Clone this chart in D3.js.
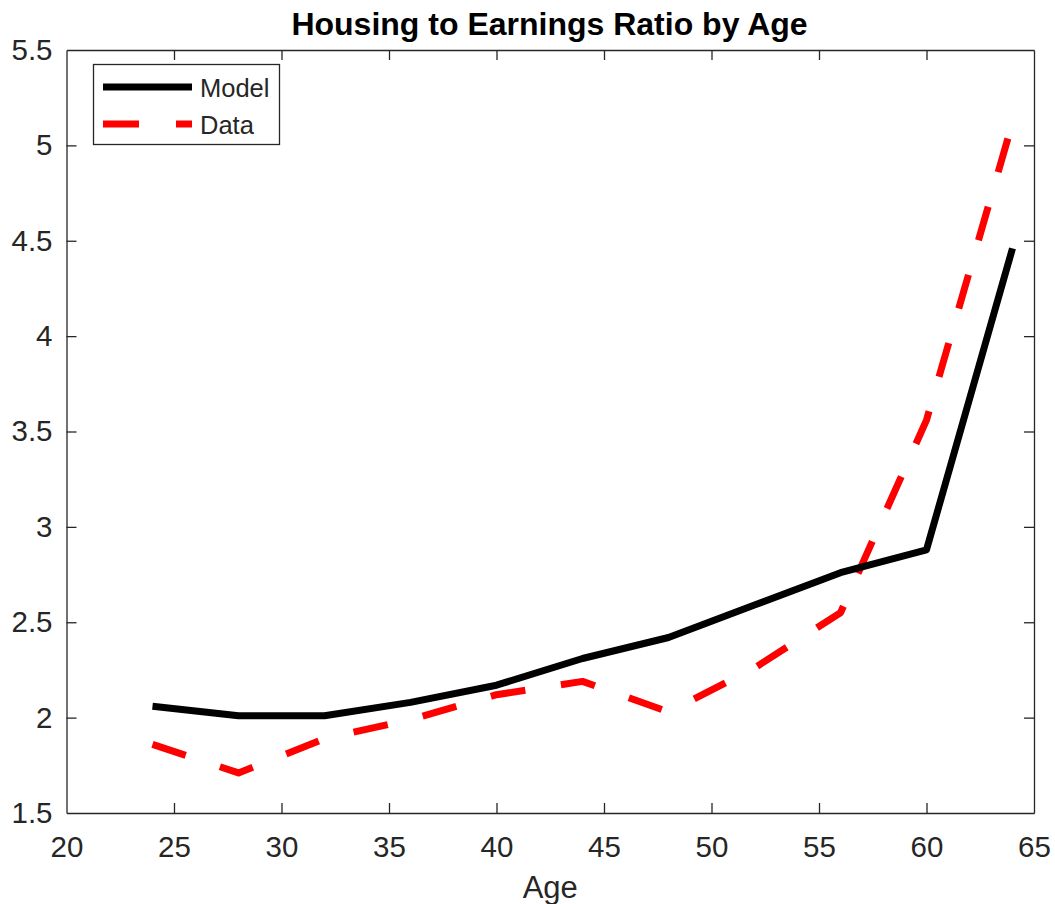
<!DOCTYPE html>
<html>
<head>
<meta charset="utf-8">
<script src="https://cdn.jsdelivr.net/npm/d3@7"></script>
<style>
  html, body { margin: 0; padding: 0; background: #fff; }
  svg { display: block; font-family: "Liberation Sans", Arial, sans-serif; }
</style>
</head>
<body>
<svg id="chart" width="1055" height="904"></svg>
<script>
// Ages at which both series are sampled
const ages = [24, 28, 32, 36, 40, 44, 48, 52, 56, 60, 64];
// Housing-to-earnings ratio, model simulation
const modelValues = [2.06, 2.01, 2.01, 2.08, 2.17, 2.31, 2.42, 2.59, 2.76, 2.88, 4.46];
// Housing-to-earnings ratio, observed data
const dataValues = [1.86, 1.71, 1.89, 1.99, 2.12, 2.19, 2.03, 2.26, 2.55, 3.56, 5.12];
// Axis ticks
const xTicks = [20, 25, 30, 35, 40, 45, 50, 55, 60, 65];
const yTicks = [1.5, 2, 2.5, 3, 3.5, 4, 4.5, 5, 5.5];
const seriesNames = ["Model", "Data"];

(function () {
  const svg = d3.select("#chart");
  const plotLeft = 66.5, plotRight = 1034, plotTop = 50, plotBottom = 813;
  const axisColor = "#262626";

  const x = d3.scaleLinear().domain([20, 65]).range([plotLeft, plotRight]);
  const y = d3.scaleLinear().domain([1.5, 5.5]).range([plotBottom, plotTop]);

  // Bottom axis with inward ticks
  const xAxis = svg.append("g").attr("transform", `translate(0,${plotBottom})`)
    .call(d3.axisBottom(x).tickValues(xTicks).tickFormat(d3.format("d")).tickSizeInner(-10).tickSizeOuter(0).tickPadding(23));
  // Top axis (ticks only)
  const xTop = svg.append("g").attr("transform", `translate(0,${plotTop})`)
    .call(d3.axisTop(x).tickValues(xTicks).tickFormat("").tickSizeInner(-10).tickSizeOuter(0));
  // Left axis
  const yAxis = svg.append("g").attr("transform", `translate(${plotLeft},0)`)
    .call(d3.axisLeft(y).tickValues(yTicks).tickFormat(d => String(d)).tickSizeInner(-10).tickSizeOuter(0).tickPadding(14));
  // Right axis (ticks only)
  const yRight = svg.append("g").attr("transform", `translate(${plotRight},0)`)
    .call(d3.axisRight(y).tickValues(yTicks).tickFormat("").tickSizeInner(-10).tickSizeOuter(0));

  [xAxis, xTop, yAxis, yRight].forEach(g => {
    g.select(".domain").attr("stroke", axisColor).attr("stroke-width", 1.3);
    g.selectAll(".tick line").attr("stroke", axisColor).attr("stroke-width", 1.3);
    g.selectAll(".tick text").attr("fill", axisColor).attr("font-size", 29.5)
      .attr("font-family", "Liberation Sans, Arial, sans-serif");
  });
  // Corner ticks merge into the box
  [xAxis, xTop].forEach(g => g.selectAll(".tick line").filter(d => d === 20 || d === 65).remove());
  [yAxis, yRight].forEach(g => g.selectAll(".tick line").filter(d => d === 1.5 || d === 5.5).remove());

  const line = d3.line().x((d, i) => x(ages[i])).y(d => y(d));

  svg.append("path").datum(dataValues)
    .attr("d", line).attr("fill", "none").attr("stroke", "#ff0000")
    .attr("stroke-width", 7).attr("stroke-dasharray", "35,36").attr("stroke-linejoin", "round");

  svg.append("path").datum(modelValues)
    .attr("d", line).attr("fill", "none").attr("stroke", "#000")
    .attr("stroke-width", 7).attr("stroke-linejoin", "round");

  // Title
  svg.append("text").attr("x", 549.5).attr("y", 35)
    .attr("text-anchor", "middle").attr("font-size", 32).attr("font-weight", "bold")
    .attr("fill", "#000").text("Housing to Earnings Ratio by Age");

  // X axis label
  svg.append("text").attr("x", (plotLeft + plotRight) / 2).attr("y", 898)
    .attr("text-anchor", "middle").attr("font-size", 31).attr("fill", axisColor).text("Age");

  // Legend
  const legend = svg.append("g");
  legend.append("rect").attr("x", 93.5).attr("y", 64.5).attr("width", 186).attr("height", 80)
    .attr("fill", "#fff").attr("stroke", axisColor).attr("stroke-width", 1.3);
  const legendStyles = [
    { color: "#000", dash: null },
    { color: "#ff0000", dash: "36,37" }
  ];
  seriesNames.forEach((name, i) => {
    const ly = 87 + i * 37;
    legend.append("line").attr("x1", 103).attr("x2", 192).attr("y1", ly).attr("y2", ly)
      .attr("stroke", legendStyles[i].color).attr("stroke-width", 7)
      .attr("stroke-dasharray", legendStyles[i].dash);
    legend.append("text").attr("x", 200).attr("y", ly + 10).attr("font-size", 25.5)
      .attr("fill", axisColor).text(name);
  });
})();
</script>
</body>
</html>
